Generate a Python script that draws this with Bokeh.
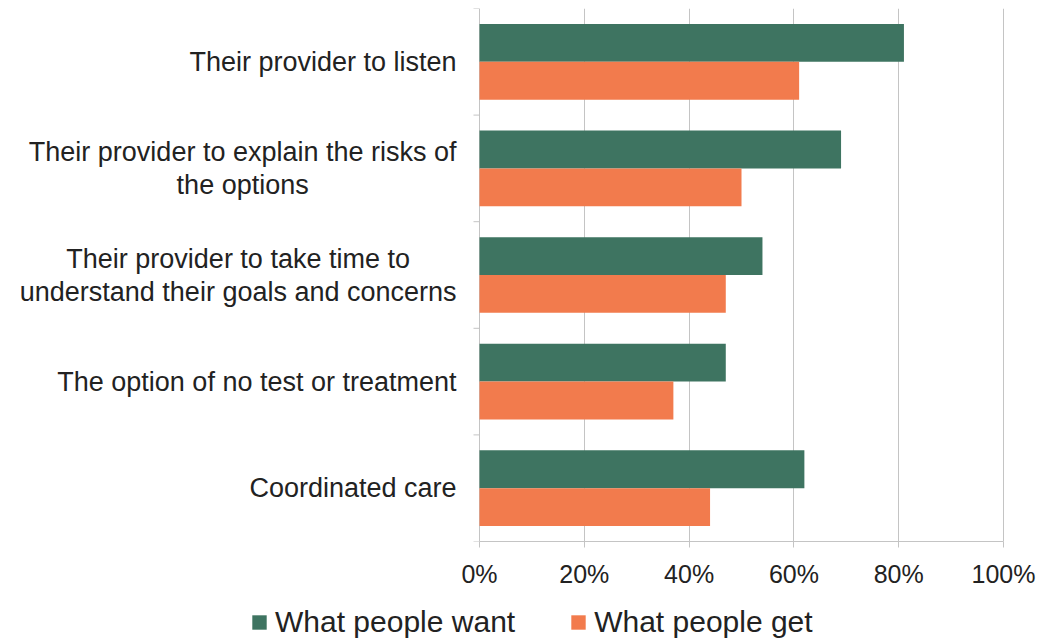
from bokeh.plotting import figure
from bokeh.layouts import column
from bokeh.models import (ColumnDataSource, FixedTicker, Range1d, Legend, LegendItem)
from bokeh.core.properties import value
from bokeh.embed import file_html
from bokeh.resources import INLINE

categories = [
    "Their provider to listen",
    "Their provider to explain the risks of\nthe options",
    "Their provider to take time to\nunderstand their goals and concerns",
    "The option of no test or treatment",
    "Coordinated care",
]
want = [81, 69, 54, 47, 62]
get = [61, 50, 47, 37, 44]
series_names = ["What people want", "What people get"]
x_ticks = [0, 20, 40, 60, 80, 100]

GREEN = "#3E7461"
ORANGE = "#F27B4D"
GRID = "#C4C4C4"
TEXT = "#222222"
FONT = "Liberation Sans"
CAT_SIZE = 27

# layout (pixels)
W = 1040
H_MAIN, H_LEG = 590, 51
X0_PX, X100_PX = 479, 1003
ppu = (X100_PX - X0_PX) / 100.0
xmin = -X0_PX / ppu
xmax = 100 + (W - X100_PX) / ppu

# Liberation Sans (Arial metric) advance widths, per 1000 em
ADV = {' ': 278, 'a': 556, 'b': 556, 'c': 500, 'd': 556, 'e': 556, 'f': 278, 'g': 556,
       'h': 556, 'i': 222, 'j': 222, 'k': 500, 'l': 222, 'm': 833, 'n': 556, 'o': 556,
       'p': 556, 'q': 556, 'r': 333, 's': 500, 't': 278, 'u': 556, 'v': 500, 'w': 722,
       'x': 500, 'y': 500, 'z': 500, 'T': 611, 'C': 722, 'W': 944}


def text_width(s, size):
    return max(sum(ADV.get(ch, 667) for ch in line) for line in s.split("\n")) * size / 1000.0


n = len(categories)
centers = [i + 0.5 for i in range(n)]
bounds = list(range(n + 1))
bar_h = 0.355
label_gap = 23

src = ColumnDataSource(dict(
    y_want=[c - bar_h / 2 for c in centers],
    y_get=[c + bar_h / 2 for c in centers],
    want=want,
    get=get,
))
lab_src = ColumnDataSource(dict(
    y=centers,
    text=categories,
    xo=[-(label_gap + text_width(c, CAT_SIZE) / 2) for c in categories],
))
tick_src = ColumnDataSource(dict(y=bounds))

p = figure(width=W, height=H_MAIN, output_backend="svg", toolbar_location=None,
           x_range=Range1d(xmin, xmax), y_range=Range1d(n, 0),
           y_axis_location=None,
           min_border_left=0, min_border_right=0, min_border_top=8,
           min_border_bottom=H_MAIN - 541)
p.outline_line_color = None
p.background_fill_color = "white"
p.border_fill_color = "white"

r1 = p.hbar(y="y_want", left=0, right="want", height=bar_h, source=src,
            fill_color=GREEN, line_color=None)
r2 = p.hbar(y="y_get", left=0, right="get", height=bar_h, source=src,
            fill_color=ORANGE, line_color=None)

# category axis tick marks at boundaries (outward, left of 0)
p.segment(x0=-6 / ppu, x1=0, y0="y", y1="y", source=tick_src,
          line_color=GRID, line_width=1)

# category labels, lines centred within each block, block right-aligned
p.text(x=0, y="y", text="text", x_offset="xo", source=lab_src,
       text_align="center", text_baseline="middle",
       text_font=value(FONT), text_font_size=f"{CAT_SIZE}px",
       text_color=TEXT, text_line_height=1.1)

# x axis
p.xaxis.ticker = FixedTicker(ticks=x_ticks)
p.xaxis.bounds = (0, 100)
p.xaxis.major_label_overrides = {t: f"{t}%" for t in x_ticks}
p.xaxis.axis_line_color = GRID
p.xaxis.major_tick_line_color = GRID
p.xaxis.major_tick_out = 6
p.xaxis.major_tick_in = 0
p.xaxis.minor_tick_line_color = None
p.xaxis.major_label_text_font = FONT
p.xaxis.major_label_text_font_size = "25px"
p.xaxis.major_label_text_color = TEXT
p.xaxis.major_label_standoff = 12

p.xgrid.ticker = FixedTicker(ticks=x_ticks)
p.xgrid.grid_line_color = GRID
p.ygrid.grid_line_color = None

# legend strip below the chart (swatch proxies sit outside the visible range)
pl = figure(width=W, height=H_LEG, output_backend="svg", toolbar_location=None,
            x_range=Range1d(0, 1), y_range=Range1d(0, 1),
            x_axis_location=None, y_axis_location=None,
            min_border=0)
pl.outline_line_color = None
pl.grid.visible = False
lr1 = pl.hbar(y=[-5], left=[0], right=[1], height=1, fill_color=GREEN, line_color=None)
lr2 = pl.hbar(y=[-5], left=[0], right=[1], height=1, fill_color=ORANGE, line_color=None)
legend = Legend(items=[LegendItem(label=series_names[0], renderers=[lr1]),
                       LegendItem(label=series_names[1], renderers=[lr2])],
                location=(250, 2), orientation="horizontal",
                label_text_font=FONT, label_text_font_size="30px",
                label_text_color=TEXT,
                glyph_width=18, glyph_height=18, label_standoff=7, spacing=54,
                padding=0, margin=0, border_line_color=None,
                background_fill_alpha=0)
pl.add_layout(legend, "center")

layout = column(p, pl, spacing=0)
open("out.html", "w").write(file_html(layout, INLINE))
